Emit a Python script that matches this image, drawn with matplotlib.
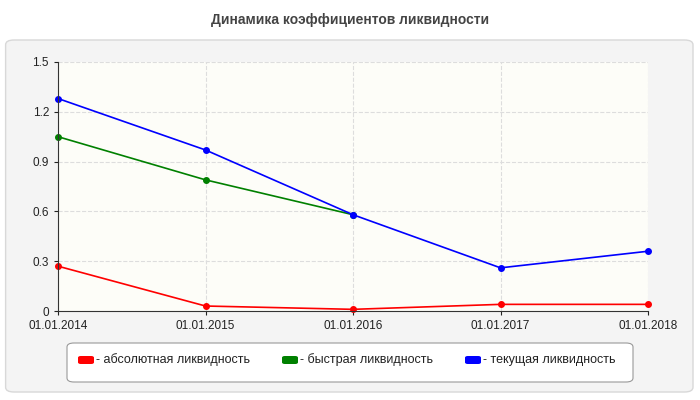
import matplotlib.pyplot as plt
from matplotlib.patches import FancyBboxPatch

dates = ['01.01.2014', '01.01.2015', '01.01.2016', '01.01.2017', '01.01.2018']
absolute = [0.27, 0.03, 0.01, 0.04, 0.04]
quick = [1.05, 0.79, 0.58]
current = [1.28, 0.97, 0.58, 0.26, 0.36]
yticks = [0, 0.3, 0.6, 0.9, 1.2, 1.5]

plt.rcParams['font.family'] = ['Liberation Sans', 'DejaVu Sans']

fig = plt.figure(figsize=(7, 4), dpi=100)
fig.patch.set_facecolor('white')
# grey panel behind the axes
bg = FancyBboxPatch((0.008, 0.02), 0.982, 0.88, boxstyle='round,pad=0,rounding_size=0.012',
                    transform=fig.transFigure, facecolor='#f4f4f4', edgecolor='#d8d8d8',
                    lw=1, zorder=-10)
fig.patches.append(bg)
fig.text(0.5, 0.95, 'Динамика коэффициентов ликвидности', ha='center', va='center',
         fontsize=10, fontweight='bold', color='#444444')

ax = fig.add_axes([58 / 700, 1 - 311 / 400, 590 / 700, 249 / 400])
ax.set_facecolor('#fdfdf8')
x = list(range(len(dates)))
ax.plot(x, absolute, color='red', marker='o', ms=4, lw=1.2, clip_on=False)
ax.plot(x[:len(quick)], quick, color='green', marker='o', ms=4, lw=1.2, clip_on=False)
ax.plot(x, current, color='blue', marker='o', ms=4, lw=1.2, clip_on=False)

ax.set_xlim(0, 4)
ax.set_ylim(0, 1.5)
ax.set_xticks(x)
ax.set_xticklabels(dates)
ax.set_yticks(yticks)
ax.set_yticklabels(['0', '0.3', '0.6', '0.9', '1.2', '1.5'])
ax.grid(True, linestyle='--', color='#dddddd', lw=0.8)
ax.tick_params(labelsize=8.5, colors='#222222', length=3)
for s in ['top', 'right']:
    ax.spines[s].set_visible(False)
for s in ['left', 'bottom']:
    ax.spines[s].set_color('#333333')

# legend
lbox = FancyBboxPatch((67 / 700, 1 - 382 / 400), 566 / 700, 39 / 400,
                      boxstyle='round,pad=0,rounding_size=0.01', transform=fig.transFigure,
                      facecolor='white', edgecolor='#999999', lw=0.8)
fig.patches.append(lbox)
items = [('red', '- абсолютная ликвидность', 78), ('green', '- быстрая ликвидность', 282),
         ('blue', '- текущая ликвидность', 465)]
for c, lab, px in items:
    fig.patches.append(FancyBboxPatch((px / 700, 1 - 364 / 400), 16 / 700, 8 / 400,
                                      boxstyle='round,pad=0,rounding_size=0.004',
                                      transform=fig.transFigure, facecolor=c, edgecolor='none'))
    fig.text((px + 18) / 700, 1 - 360 / 400, lab, fontsize=9, va='center', color='#222222')

fig.savefig('out.png', dpi=100)
